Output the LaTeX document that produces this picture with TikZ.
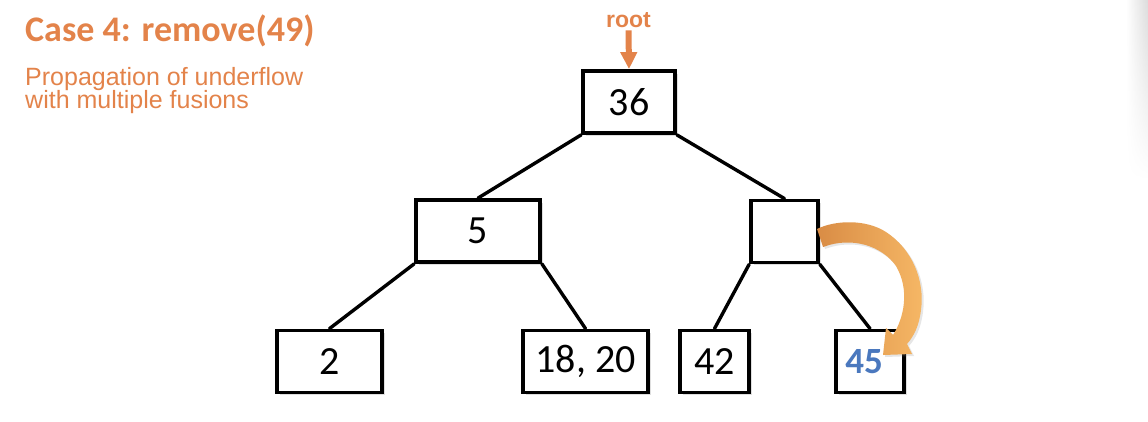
\documentclass[tikz,border=0pt]{standalone}
\usepackage{fontspec}
\setmainfont{Carlito}
\newfontfamily\arialf{Liberation Sans}
\usetikzlibrary{arrows.meta,shadows,fadings}
\definecolor{orng}{HTML}{E3834A}
\definecolor{orngA}{HTML}{D98C45}
\definecolor{orngB}{HTML}{F6B866}
\definecolor{blu}{HTML}{4A78BE}
\begin{document}
\begin{tikzpicture}[x=1pt,y=-1pt,
  bbox/.style={draw=black,line width=3.8pt,fill=white,minimum height=62pt,inner sep=0pt,
    font=\fontsize{40}{44}\selectfont,
    drop shadow={opacity=0.25,shadow xshift=2.5pt,shadow yshift=-2.5pt}},
  edge/.style={line width=3.4pt,line cap=round}]
\useasboundingbox (0,0) rectangle (1148,421);
\shade[left color=white,right color=black!14,path fading=south] (1126,0) rectangle (1148,180);
% title
\node[anchor=base west,inner sep=0pt,text=orng,font=\fontsize{36}{40}\selectfont\bfseries] (title) at (25,41) {Case 4: remove(49)};
\node[anchor=base west,inner sep=0pt,text=orng,font=\arialf\fontsize{25}{28}\selectfont] (sub1) at (25,85) {Propagation of underflow};
\node[anchor=base west,inner sep=0pt,text=orng,font=\arialf\fontsize{25}{28}\selectfont] (sub2) at (25,108) {with multiple fusions};
\coordinate (c36) at (629,102);
\coordinate (c5) at (478,231);
\coordinate (ce) at (784.5,231.5);
\coordinate (c2) at (329.5,361.5);
\coordinate (c18) at (585.5,361.5);
\coordinate (c42) at (714.5,361.5);
\coordinate (c45) at (870,361.5);
% nodes
\node[bbox,minimum width=92pt] (n36) at (c36) {36};
\node[bbox,minimum width=124pt] (n5) at (c5) {5};
\node[bbox,minimum width=67pt] (ne) at (ce) {};
\node[bbox,minimum width=105pt] (n2) at (c2) {2};
\node[bbox,minimum width=125pt] (n18) at (c18) {18, 20};
\node[bbox,minimum width=69pt] (n42) at (c42) {42};
\node[bbox,minimum width=68pt] (n45) at (c45) {};
\node[text=blu,font=\fontsize{37}{40}\selectfont\bfseries,inner sep=0pt] (t45) at ([xshift=-6pt]c45) {45};
\draw[edge] (n36.south west) -- (n5.north);
\draw[edge] (n36.south east) -- (ne.north);
\draw[edge] (n5.south west) -- (n2.north);
\draw[edge] (n5.south east) -- (n18.north);
\draw[edge] (ne.south west) -- (n42.north);
\draw[edge] (ne.south east) -- (n45.north);
% root label and arrow
\node[inner sep=0pt,anchor=base,text=orng,font=\arialf\fontsize{23}{26}\selectfont\bfseries] (root) at (628.5,27) {root};
\draw[orng,line width=6pt,-{Triangle[width=16pt,length=17pt]}] (root.south) ++(0,3) coordinate (rs) -- (n36.north);
% curved fat arrow
\shade[left color=orngA,right color=orngB,
  drop shadow={opacity=0.2,shadow xshift=2pt,shadow yshift=-2pt}]
  (817,229) .. controls (835,220) and (866,219) .. (886,232)
  .. controls (912,249) and (925,280) .. (921,310)
  .. controls (919,326) and (914,336) .. (907,344)
  -- (912,354) -- (883,355) -- (886,328) -- (893,335)
  .. controls (904,318) and (910,290) .. (896,266)
  .. controls (882,246) and (852,236) .. (823,247)
  -- (820,238) -- cycle;
\end{tikzpicture}
\end{document}
